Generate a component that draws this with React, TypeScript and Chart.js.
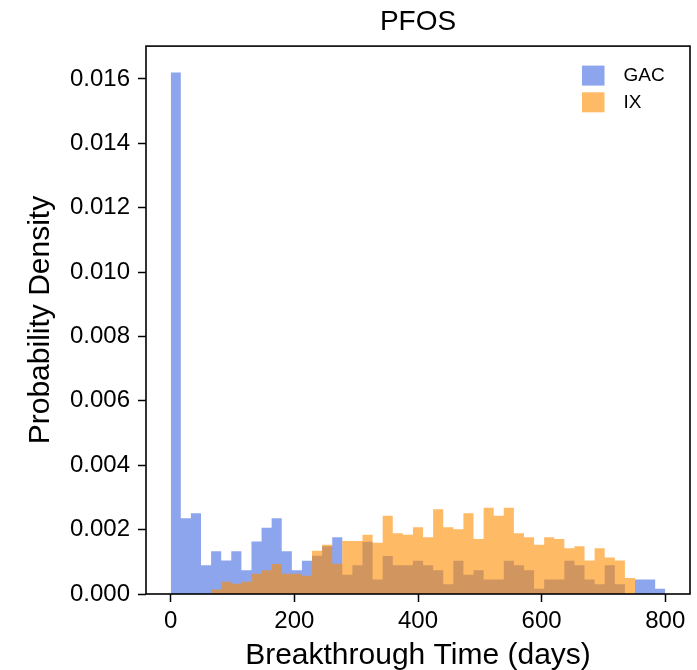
import React, { useEffect, useRef } from "react";
import { Chart, registerables } from "chart.js";

Chart.register(...registerables);

// Histogram bins: 49 equal bins spanning 0–800 days
const binStart = 0;
const binEnd = 800;
const binCount = 49;

// Probability density per bin (×1e-3)
const gacDensity = [
  16.2, 2.35, 2.51, 0.89, 1.33, 1.04, 1.33, 0.74, 1.63, 2.06,
  2.35, 1.33, 0.74, 1.03, 1.19, 1.48, 1.76, 0.6, 0.89, 1.62,
  0.45, 1.18, 0.89, 0.89, 1.03, 0.89, 0.74, 0.3, 1.03, 0.6,
  0.74, 0.45, 0.45, 1.03, 0.89, 0.74, 0.16, 0.45, 0.45, 1.03,
  0.89, 0.45, 0.3, 0.89, 0.3, 0, 0.45, 0.45, 0.16,
];
const ixDensity = [
  0, 0, 0, 0, 0.14, 0.38, 0.32, 0.38, 0.63, 0.74,
  0.93, 0.63, 0.63, 0.57, 1.34, 1.53, 0.94, 1.65, 1.65, 1.84,
  1.59, 2.43, 1.89, 1.84, 2.07, 1.76, 2.63, 2.07, 2.01, 2.51,
  1.71, 2.68, 2.43, 2.68, 1.89, 1.76, 1.53, 1.76, 1.71, 1.42,
  1.48, 1.04, 1.42, 1.13, 1.04, 0.5, 0, 0, 0,
];

const seriesLabels = ["GAC", "IX"];
const seriesColors = ["rgba(65,105,225,0.6)", "rgba(255,140,0,0.6)"];

const titleText = "PFOS";
const xTitle = "Breakthrough Time (days)";
const yTitle = "Probability Density";
const xTicks = [0, 200, 400, 600, 800];
const yTicks = [0, 0.002, 0.004, 0.006, 0.008, 0.01, 0.012, 0.014, 0.016];

const FONT = "'Liberation Sans', Arial, Helvetica, sans-serif";

const binWidth = (binEnd - binStart) / binCount;
// Step histogram: one point per bin's left edge, plus the closing right edge
const toSteps = (vals: number[]) => {
  const pts = vals.map((v, i) => ({ x: binStart + i * binWidth, y: v / 1000 }));
  pts.push({ x: binEnd, y: 0 });
  return pts;
};

const framePlugin = {
  id: "frameBox",
  afterDatasetsDraw(chart: any) {
    const { ctx, chartArea } = chart;
    ctx.save();
    ctx.strokeStyle = "#000";
    ctx.lineWidth = 1.6;
    ctx.strokeRect(
      chartArea.left,
      chartArea.top,
      chartArea.right - chartArea.left,
      chartArea.bottom - chartArea.top
    );
    ctx.restore();
  },
};

const legendPlugin = {
  id: "insideLegend",
  afterDraw(chart: any) {
    const { ctx, chartArea } = chart;
    ctx.save();
    ctx.font = `19px ${FONT}`;
    ctx.textBaseline = "middle";
    ctx.textAlign = "left";
    chart.data.datasets.forEach((ds: any, i: number) => {
      const bx = chartArea.right - 108;
      const by = chartArea.top + 19.5 + i * 26.7;
      ctx.fillStyle = ds.backgroundColor;
      ctx.fillRect(bx, by, 22.5, 20);
      ctx.fillStyle = "#000";
      ctx.fillText(ds.label, bx + 41.5, by + 10.5);
    });
    ctx.restore();
  },
};

export default function App() {
  const ref = useRef<HTMLCanvasElement | null>(null);

  useEffect(() => {
    if (!ref.current) return;
    const mk = (i: number, vals: number[], order: number) => ({
      label: seriesLabels[i],
      data: toSteps(vals),
      backgroundColor: seriesColors[i],
      borderColor: "rgba(0,0,0,0)",
      borderWidth: 0,
      pointRadius: 0,
      stepped: "before",
      fill: "origin",
      tension: 0,
      order,
    });
    const chart = new Chart(ref.current, {
      type: "line",
      data: {
        datasets: [mk(0, gacDensity, 2), mk(1, ixDensity, 1)] as any,
      },
      options: {
        responsive: false,
        animation: false,
        devicePixelRatio: 1,
        layout: { padding: { left: 0, right: 7, top: 0, bottom: 0 } },
        plugins: {
          legend: { display: false },
          tooltip: { enabled: false },
          title: {
            display: true,
            fullSize: false,
            text: titleText,
            color: "#000",
            font: { family: FONT, size: 28, weight: "normal" },
            padding: { top: 5, bottom: 7.5 },
          },
        },
        scales: {
          x: {
            type: "linear",
            min: -40,
            max: 840,
            offset: false,
            afterFit: (s: any) => {
              s.height = 76;
            },
            afterBuildTicks: (s: any) => {
              s.ticks = xTicks.map((v) => ({ value: v }));
            },
            ticks: {
              color: "#000",
              font: { family: FONT, size: 24 },
              padding: 5,
              maxRotation: 0,
              autoSkip: false,
            },
            grid: {
              display: true,
              offset: false,
              drawOnChartArea: false,
              drawTicks: true,
              tickLength: 8,
              tickWidth: 1.5,
              tickColor: "#000",
            },
            border: { display: false },
            title: {
              display: true,
              text: xTitle,
              color: "#000",
              font: { family: FONT, size: 30 },
              padding: { top: 0, bottom: -4 },
            },
          },
          y: {
            type: "linear",
            min: 0,
            max: 0.01702,
            afterFit: (s: any) => {
              s.width = 146;
            },
            afterBuildTicks: (s: any) => {
              s.ticks = yTicks.map((v) => ({ value: v }));
            },
            ticks: {
              color: "#000",
              font: { family: FONT, size: 24 },
              padding: 8,
              autoSkip: false,
              callback: (v: any) => Number(v).toFixed(3),
            },
            grid: {
              display: true,
              drawOnChartArea: false,
              drawTicks: true,
              tickLength: 8,
              tickWidth: 1.5,
              tickColor: "#000",
            },
            border: { display: false },
            title: {
              display: true,
              text: yTitle,
              color: "#000",
              font: { family: FONT, size: 30 },
              padding: { top: 23, bottom: 0 },
            },
          },
        },
      } as any,
      plugins: [framePlugin, legendPlugin],
    });
    return () => chart.destroy();
  }, []);

  return (
    <div
      style={{
        position: "absolute",
        left: 0,
        top: 0,
        width: 697,
        height: 670,
        background: "#fff",
      }}
    >
      <canvas ref={ref} width={697} height={670} />
    </div>
  );
}
